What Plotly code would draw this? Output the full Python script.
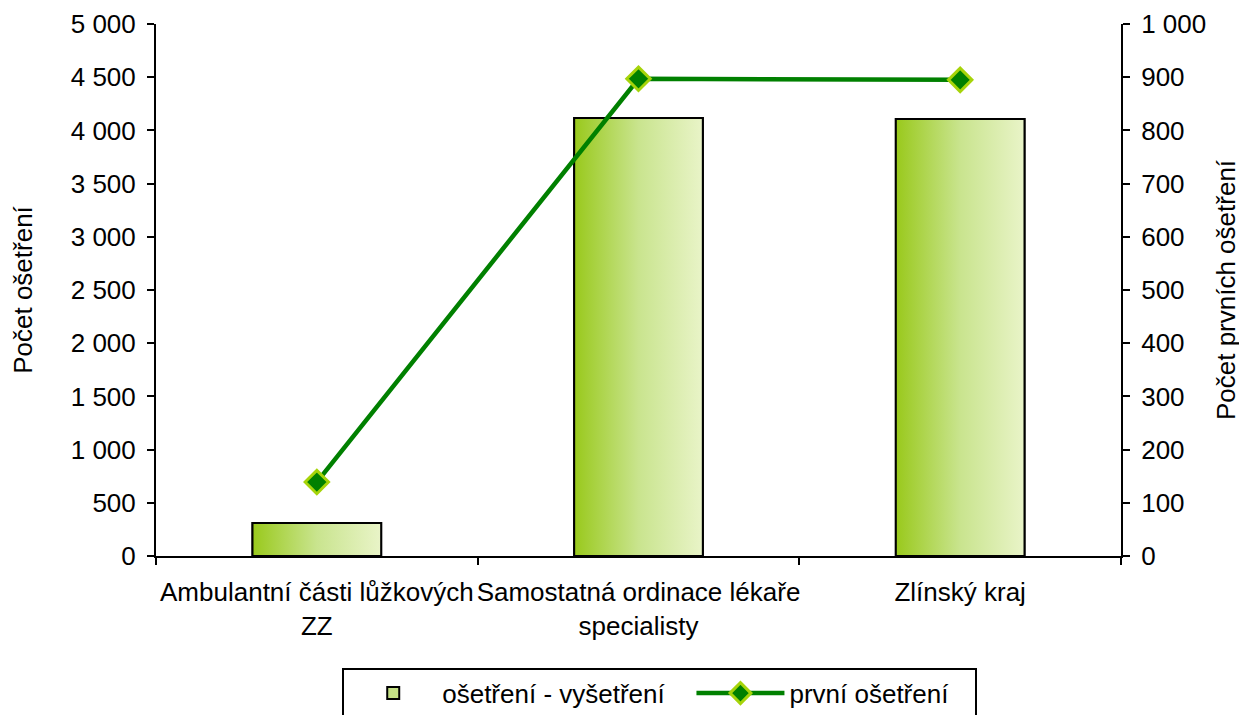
import plotly.graph_objects as go

categories = ["Ambulantní části lůžkových<br>ZZ", "Samostatná ordinace lékaře<br>specialisty", "Zlínský kraj"]
osetreni = [310, 4117, 4107]
prvni = [139, 897, 895]
left_ticks = [0, 500, 1000, 1500, 2000, 2500, 3000, 3500, 4000, 4500, 5000]
right_ticks = [0, 100, 200, 300, 400, 500, 600, 700, 800, 900, 1000]
series_names = ["ošetření - vyšetření", "první ošetření"]

FONT = "Liberation Sans, Arial, sans-serif"
FS = 26
bar_w = 0.4
xs = list(range(len(categories)))
grad = [[0, "#99c91c"], [0.5, "#c9e48e"], [1, "#e9f4c8"]]
NB = "\u00a0"

fig = go.Figure()

fig.add_trace(go.Bar(
    x=xs, y=osetreni, width=bar_w, name=series_names[0] + NB * 3,
    marker=dict(color="#c4e085", line=dict(color="black", width=2)),
    hoverinfo="skip", yaxis="y",
))

for i, v in enumerate(osetreni):
    x0, x1 = xs[i] - bar_w / 2, xs[i] + bar_w / 2
    fig.add_trace(go.Scatter(
        x=[x0, x0, x1, x1, x0], y=[0, v, v, 0, 0],
        mode="lines", fill="toself",
        line=dict(color="black", width=2),
        fillgradient=dict(type="horizontal", colorscale=grad, start=x0, stop=x1),
        showlegend=False, hoverinfo="skip", yaxis="y",
    ))

fig.add_trace(go.Scatter(
    x=xs, y=prvni, mode="lines+markers", name=series_names[1] + NB * 3,
    line=dict(color="#008000", width=4.5),
    marker=dict(symbol="diamond", size=18, color="#008000",
                line=dict(color="#a6d40a", width=3)),
    yaxis="y2",
))

tick_common = dict(ticks="outside", ticklen=7, tickcolor="black", tickwidth=1.5,
                   showline=True, linecolor="black", linewidth=2,
                   showgrid=False, zeroline=False, tickfont=dict(size=FS))

fig.update_layout(
    width=1239, height=707,
    margin=dict(l=148, r=126, t=16, b=159, autoexpand=False),
    paper_bgcolor="white", plot_bgcolor="white",
    separators=". ",
    font=dict(family=FONT, size=FS, color="black"),
    showlegend=True,
    legend=dict(orientation="h", x=0.522, xanchor="center", y=-0.21, yanchor="top",
                bordercolor="black", borderwidth=2, font=dict(size=FS),
                itemwidth=88, tracegroupgap=0),
    xaxis=dict(range=[-0.5, 2.5], tickvals=xs, ticktext=categories, tickangle=0,
               automargin=False,
               showline=True, linecolor="black", linewidth=2,
               ticks="outside", ticklen=12, tickcolor="rgba(0,0,0,0)",
               showgrid=False, zeroline=False,
               minor=dict(tickvals=[-0.5, 0.5, 1.5, 2.5], ticks="outside", ticklen=7,
                          tickcolor="black", tickwidth=1.5, showgrid=False),
               tickfont=dict(size=FS)),
    yaxis=dict(range=[0, 5000], tickvals=left_ticks, separatethousands=True,
               ticklabelstandoff=6, automargin=False,
               title=dict(text="Počet ošetření", font=dict(size=FS), standoff=34),
               **tick_common),
    yaxis2=dict(range=[0, 1000], tickvals=right_ticks, separatethousands=True,
                overlaying="y", side="right", ticklabelstandoff=6, automargin=True,
                title=dict(text="Počet prvních ošetření", font=dict(size=FS), standoff=12),
                **tick_common),
    yaxis3=dict(range=[0, 5000], tickvals=left_ticks[1:-1], overlaying="y",
                showgrid=True, griddash="8px,6px", gridcolor="#444", gridwidth=1,
                showticklabels=False, ticks="", showline=False, zeroline=False,
                automargin=False, layer="below traces"),
)

fig.write_html("out.html")
